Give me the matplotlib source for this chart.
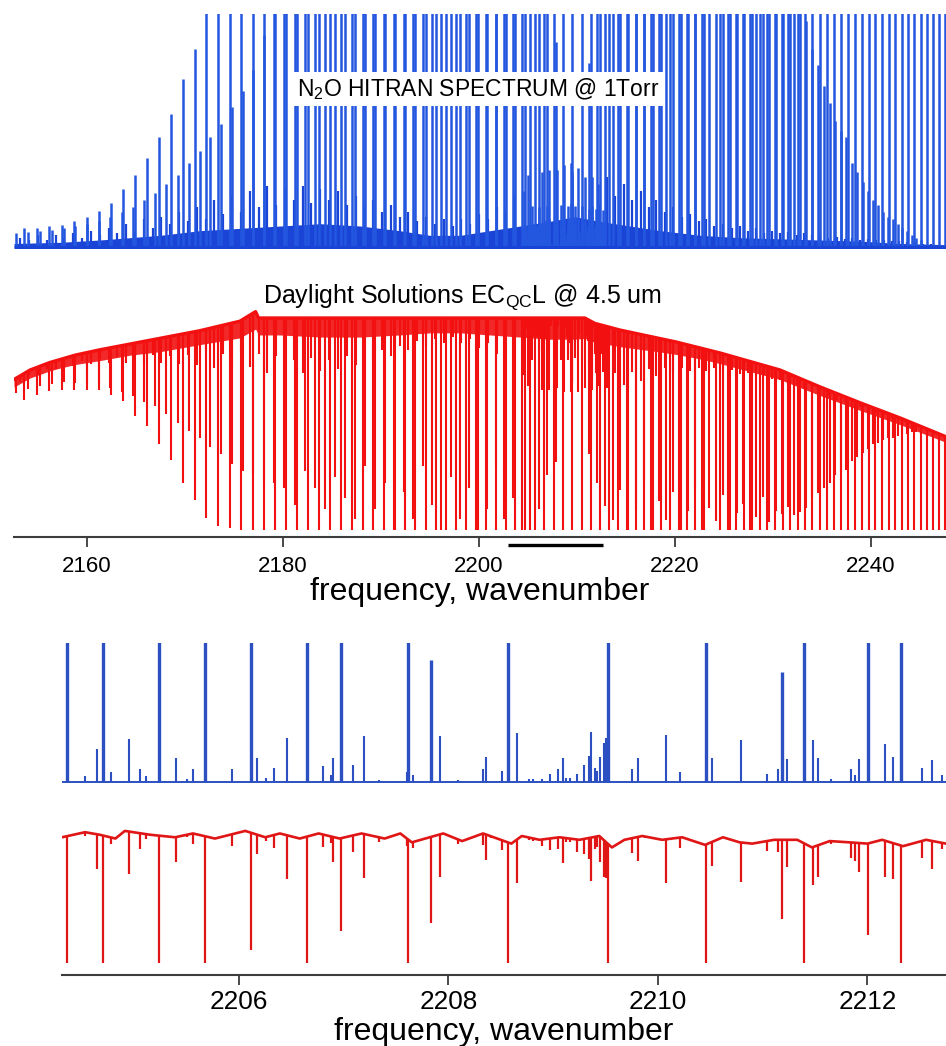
import numpy as np
import matplotlib
matplotlib.use("Agg")
import matplotlib.pyplot as plt

plt.rcParams['font.family'] = ['Liberation Sans', 'DejaVu Sans']
plt.rcParams['mathtext.fontset'] = 'custom'
plt.rcParams['mathtext.rm'] = 'Liberation Sans'
plt.rcParams['mathtext.it'] = 'Liberation Sans:italic'
plt.rcParams['mathtext.bf'] = 'Liberation Sans:bold'

# ------------------------------------------------------------------ data
# main band (nu3) P-branch lines, J = 1..66
main_p_nu = [2222.92, 2222.07, 2221.22, 2220.36, 2219.50, 2218.62, 2217.75, 2216.86, 2215.97, 2215.07,
             2214.16, 2213.24, 2212.32, 2211.39, 2210.46, 2209.52, 2208.57, 2207.61, 2206.65, 2205.68,
             2204.70, 2203.72, 2202.73, 2201.73, 2200.73, 2199.72, 2198.70, 2197.68, 2196.64, 2195.61,
             2194.56, 2193.51, 2192.45, 2191.38, 2190.31, 2189.23, 2188.14, 2187.05, 2185.95, 2184.84,
             2183.72, 2182.60, 2181.47, 2180.34, 2179.19, 2178.04, 2176.89, 2175.72, 2174.56, 2173.38,
             2172.19, 2171.00, 2169.80, 2168.60, 2167.39, 2166.17, 2164.94, 2163.71, 2162.47, 2161.23,
             2159.97, 2158.71, 2157.44, 2156.17, 2154.89, 2153.60]
main_p_blue = [4.2, 8.3, 12.2, 15.9, 19.8, 23.0, 26.4, 29.3, 31.7, 33.6,
               35.3, 36.6, 37.6, 38.3, 38.8, 38.8, 38.5, 38.0, 37.1, 35.9,
               34.7, 33.2, 31.7, 30.0, 28.2, 26.4, 24.6, 22.8, 21.0, 19.2,
               17.5, 15.9, 14.3, 12.9, 11.5, 10.2, 9.0, 7.9, 6.9, 6.1,
               5.3, 4.6, 3.9, 3.4, 2.9, 2.4, 2.05, 1.7, 1.45, 1.2,
               1.05, 0.85, 0.72, 0.57, 0.47, 0.38, 0.31, 0.25, 0.19, 0.155,
               0.13, 0.11, 0.095, 0.088, 0.083, 0.08]
main_p_red = [1.0, 1.0, 1.0, 1.0, 1.0, 1.0, 1.0, 1.0, 1.0, 1.0,
              1.0, 1.0, 1.0, 1.0, 1.0, 1.0, 1.0, 1.0, 1.0, 1.0,
              1.0, 1.0, 1.0, 1.0, 1.0, 1.0, 1.0, 1.0, 1.0, 1.0,
              1.0, 1.0, 1.0, 1.0, 1.0, 1.0, 1.0, 1.0, 1.0, 1.0,
              1.0, 1.0, 1.0, 1.0, 1.0, 1.0, 1.0, 1.0, 0.99, 0.98,
              0.94, 0.85, 0.76, 0.64, 0.55, 0.45, 0.39, 0.30, 0.26, 0.22,
              0.21, 0.20, 0.18, 0.17, 0.17, 0.17]

# main band R-branch lines, J = 0..32
main_r_nu = [2224.59, 2225.41, 2226.23, 2227.04, 2227.84, 2228.64, 2229.43, 2230.21, 2230.99, 2231.76,
             2232.52, 2233.27, 2234.02, 2234.76, 2235.50, 2236.23, 2236.95, 2237.66, 2238.37, 2239.07,
             2239.76, 2240.44, 2241.12, 2241.79, 2242.46, 2243.12, 2243.77, 2244.41, 2245.05, 2245.68,
             2246.31, 2246.92, 2247.53]
main_r_blue = [4.2, 8.4, 12.4, 16.2, 19.8, 23.2, 26.3, 29.1, 31.5, 33.5,
               35.1, 36.4, 37.3, 37.9, 38.1, 38.0, 37.6, 36.9, 35.9, 34.7,
               33.3, 31.8, 30.1, 28.4, 26.6, 24.8, 23.0, 21.2, 19.4, 17.7,
               16.1, 14.5, 13.0]
main_r_red = [1.0, 1.0, 1.0, 1.0, 1.0, 1.0, 1.0, 1.0, 1.0, 1.0,
              1.0, 1.0, 1.0, 1.0, 1.0, 1.0, 1.0, 1.0, 1.0, 1.0,
              1.0, 1.0, 1.0, 1.0, 1.0, 1.0, 1.0, 1.0, 1.0, 1.0,
              1.0, 1.0, 1.0]

# hot band P-branch lines, J = 2..55
hot_p_nu = [2207.83, 2206.97, 2206.11, 2205.24, 2204.36, 2203.48, 2202.58, 2201.69, 2200.78, 2199.87,
            2198.95, 2198.02, 2197.09, 2196.15, 2195.20, 2194.25, 2193.28, 2192.32, 2191.34, 2190.36,
            2189.37, 2188.37, 2187.37, 2186.36, 2185.34, 2184.32, 2183.28, 2182.25, 2181.20, 2180.15,
            2179.09, 2178.02, 2176.95, 2175.87, 2174.78, 2173.69, 2172.58, 2171.48, 2170.36, 2169.24,
            2168.11, 2166.97, 2165.83, 2164.68, 2163.52, 2162.36, 2161.18, 2160.01, 2158.82, 2157.63,
            2156.43, 2155.22, 2154.01, 2152.79]
hot_p_blue = [0.88, 1.3, 1.7, 2.0, 2.3, 2.5, 2.7, 2.8, 2.9, 3.0,
              3.0, 3.0, 3.0, 2.9, 2.8, 2.7, 2.6, 2.5, 2.35, 2.2,
              2.05, 1.9, 1.8, 1.65, 1.55, 1.45, 1.35, 1.25, 1.18, 1.1,
              1.04, 0.91, 0.76, 0.67, 0.60, 0.53, 0.47, 0.41, 0.36, 0.31,
              0.27, 0.23, 0.20, 0.17, 0.15, 0.13, 0.11, 0.10, 0.09, 0.08,
              0.075, 0.07, 0.065, 0.06]
hot_p_red = [0.68, 0.74, 0.90, 1.0, 1.0, 0.85, 0.95, 0.70, 0.90, 1.0,
             0.80, 0.95, 0.75, 1.0, 0.88, 0.70, 0.95, 0.82, 1.0, 0.78,
             0.90, 0.70, 0.95, 0.85, 0.75, 0.90, 0.80, 0.72, 0.88, 0.80,
             0.78, 0.77, 0.74, 0.72, 0.68, 0.63, 0.59, 0.54, 0.50, 0.45,
             0.40, 0.35, 0.32, 0.28, 0.25, 0.22, 0.19, 0.17, 0.16, 0.14,
             0.13, 0.12, 0.11, 0.10]

# hot band R-branch lines, J = 1..54
hot_r_nu = [2211.18, 2212.01, 2212.82, 2213.63, 2214.43, 2215.22, 2216.01, 2216.79, 2217.56, 2218.33,
            2219.08, 2219.84, 2220.58, 2221.32, 2222.05, 2222.77, 2223.49, 2224.20, 2224.90, 2225.60,
            2226.28, 2226.97, 2227.64, 2228.31, 2228.97, 2229.62, 2230.27, 2230.91, 2231.54, 2232.17,
            2232.78, 2233.40, 2234.00, 2234.60, 2235.19, 2235.77, 2236.35, 2236.92, 2237.48, 2238.04,
            2238.58, 2239.13, 2239.66, 2240.19, 2240.71, 2241.22, 2241.73, 2242.23, 2242.72, 2243.21,
            2243.68, 2244.16, 2244.62, 2245.08]
hot_r_blue = [0.79, 1.2, 1.5, 1.8, 2.1, 2.3, 2.5, 2.6, 2.7, 2.8,
              2.8, 2.8, 2.8, 2.7, 2.6, 2.5, 2.4, 2.3, 2.2, 2.1,
              2.0, 1.9, 1.8, 1.7, 1.6, 1.5, 1.4, 1.3, 1.25, 1.15,
              1.08, 0.97, 0.85, 0.78, 0.69, 0.62, 0.54, 0.50, 0.47, 0.36,
              0.32, 0.28, 0.24, 0.20, 0.18, 0.15, 0.13, 0.12, 0.10, 0.08,
              0.07, 0.05, 0.04, 0.03]
hot_r_red = [0.64, 0.77, 0.88, 0.95, 0.80, 1.0, 0.90, 0.75, 1.0, 0.85,
             0.95, 0.80, 1.0, 0.90, 0.78, 1.0, 0.88, 0.95, 0.80, 1.0,
             0.90, 0.85, 1.0, 0.92, 0.80, 0.95, 0.88, 0.90, 0.85, 0.90,
             0.88, 0.85, 0.78, 0.74, 0.70, 0.66, 0.60, 0.57, 0.55, 0.47,
             0.43, 0.39, 0.35, 0.30, 0.28, 0.24, 0.21, 0.20, 0.17, 0.14,
             0.12, 0.09, 0.07, 0.06]

# weak lines read from the zoomed window (2204.3 - 2212.75)
weak_nu = [2204.53, 2204.64, 2204.78, 2204.95, 2205.05, 2205.11, 2205.40, 2205.50, 2205.56, 2205.93,
           2206.17, 2206.26, 2206.33, 2206.46, 2206.80, 2206.88, 2206.90, 2207.09, 2207.19, 2207.34,
           2207.40, 2207.60, 2207.66, 2207.92, 2208.09, 2208.24, 2208.33, 2208.36, 2208.41, 2208.51,
           2208.65, 2208.77, 2208.81, 2208.89, 2208.97, 2209.05, 2209.09, 2209.12, 2209.16, 2209.23,
           2209.29, 2209.34, 2209.36, 2209.40, 2209.42, 2209.45, 2209.48, 2209.50, 2209.75, 2209.81,
           2209.88, 2210.08, 2210.21, 2210.52, 2210.79, 2211.04, 2211.15, 2211.23, 2211.48, 2211.53,
           2211.65, 2211.84, 2211.88, 2211.92, 2212.17, 2212.24, 2212.52, 2212.62, 2212.71]
weak_blue = [0.045, 0.24, 0.07, 0.31, 0.09, 0.04, 0.175, 0.02, 0.09, 0.09,
             0.17, 0.03, 0.10, 0.32, 0.115, 0.05, 0.175, 0.12, 0.33, 0.015,
             0.01, 0.07, 0.05, 0.33, 0.015, 0.01, 0.09, 0.18, 0.01, 0.08,
             0.35, 0.02, 0.02, 0.02, 0.06, 0.09, 0.175, 0.03, 0.03, 0.06,
             0.12, 0.19, 0.36, 0.10, 0.08, 0.18, 0.28, 0.32, 0.09, 0.175,
             0.01, 0.34, 0.07, 0.175, 0.30, 0.06, 0.09, 0.165, 0.30, 0.175,
             0.02, 0.09, 0.05, 0.165, 0.27, 0.18, 0.10, 0.16, 0.05]
weak_red = [0.03, 0.27, 0.05, 0.32, 0.12, 0.04, 0.20, 0.02, 0.08, 0.09,
            0.15, 0.03, 0.10, 0.34, 0.10, 0.05, 0.20, 0.13, 0.34, 0.04,
            0.01, 0.06, 0.05, 0.33, 0.04, 0.01, 0.09, 0.20, 0.01, 0.08,
            0.35, 0.02, 0.02, 0.05, 0.09, 0.09, 0.20, 0.03, 0.03, 0.10,
            0.12, 0.17, 0.35, 0.10, 0.08, 0.20, 0.30, 0.30, 0.12, 0.19,
            0.01, 0.35, 0.08, 0.20, 0.33, 0.08, 0.10, 0.22, 0.33, 0.27,
            0.02, 0.13, 0.15, 0.24, 0.30, 0.30, 0.14, 0.23, 0.05]

# weaker satellite lines of the survey spectrum outside the zoomed window
sat_nu = [2153.2, 2154.1, 2155.0, 2155.9, 2156.8, 2157.7, 2158.6, 2159.5, 2160.4, 2161.3,
          2162.2, 2163.1, 2164.0, 2164.9, 2165.8, 2166.7, 2167.6, 2168.5, 2169.4, 2170.3,
          2171.2, 2172.1, 2173.0, 2173.9, 2174.8, 2175.7, 2176.6, 2177.5, 2178.4, 2179.3,
          2180.2, 2181.1, 2182.0, 2182.9, 2183.8, 2184.7, 2185.6, 2186.5, 2187.4, 2188.3,
          2189.2, 2190.1, 2191.0, 2191.9, 2192.8, 2193.7, 2194.6, 2195.5, 2196.4, 2197.3,
          2198.2, 2199.1, 2200.0, 2200.9, 2201.8, 2202.7, 2203.6,
          2213.1, 2213.9, 2214.8, 2215.6, 2216.5, 2217.3, 2218.1, 2219.0, 2219.8, 2220.7,
          2221.5, 2222.4, 2223.2, 2224.0, 2224.9, 2225.8, 2226.6, 2227.4, 2228.3, 2229.1,
          2229.9, 2230.7, 2231.5, 2232.4, 2233.2, 2234.0, 2234.8, 2235.6, 2236.5, 2237.3,
          2238.1, 2238.9, 2239.7, 2240.5, 2241.3, 2242.1, 2242.9, 2243.7, 2244.5, 2245.3,
          2246.1, 2246.9]
sat_blue = [0.04, 0.03, 0.05, 0.03, 0.05, 0.04, 0.06, 0.04, 0.07, 0.05,
            0.08, 0.06, 0.10, 0.07, 0.12, 0.08, 0.13, 0.10, 0.15, 0.11,
            0.17, 0.12, 0.20, 0.14, 0.22, 0.15, 0.24, 0.17, 0.26, 0.18,
            0.25, 0.20, 0.26, 0.19, 0.25, 0.20, 0.24, 0.18, 0.22, 0.17,
            0.20, 0.15, 0.18, 0.13, 0.15, 0.11, 0.13, 0.10, 0.12, 0.09,
            0.12, 0.10, 0.14, 0.12, 0.17, 0.15, 0.22,
            0.30, 0.22, 0.27, 0.20, 0.24, 0.17, 0.20, 0.15, 0.17, 0.13,
            0.14, 0.11, 0.12, 0.09, 0.10, 0.08, 0.09, 0.07, 0.08, 0.06,
            0.07, 0.06, 0.065, 0.05, 0.06, 0.05, 0.05, 0.04, 0.045, 0.035,
            0.04, 0.03, 0.035, 0.03, 0.03, 0.025, 0.025, 0.02, 0.02, 0.015,
            0.015, 0.01]
sat_red = [0.04, 0.03, 0.05, 0.03, 0.05, 0.04, 0.06, 0.04, 0.07, 0.05,
           0.08, 0.06, 0.10, 0.07, 0.12, 0.08, 0.13, 0.10, 0.15, 0.11,
           0.17, 0.12, 0.20, 0.14, 0.22, 0.15, 0.24, 0.17, 0.26, 0.18,
           0.25, 0.20, 0.26, 0.19, 0.25, 0.20, 0.24, 0.18, 0.22, 0.17,
           0.20, 0.15, 0.18, 0.13, 0.15, 0.11, 0.13, 0.10, 0.12, 0.09,
           0.12, 0.10, 0.14, 0.12, 0.17, 0.15, 0.22,
           0.30, 0.22, 0.27, 0.20, 0.24, 0.17, 0.20, 0.15, 0.17, 0.13,
           0.14, 0.11, 0.12, 0.09, 0.10, 0.08, 0.09, 0.07, 0.08, 0.06,
           0.07, 0.06, 0.065, 0.05, 0.06, 0.05, 0.05, 0.04, 0.045, 0.035,
           0.04, 0.03, 0.035, 0.03, 0.03, 0.025, 0.025, 0.02, 0.02, 0.015,
           0.015, 0.01]

# dense unresolved forest near the baseline (blue) and under the laser envelope (red)
forest_nu = [2152.55, 2157.2, 2161.3, 2164.4, 2167.45, 2171.5, 2175.6, 2179.7, 2183.8, 2187.9,
             2191.9, 2195.0, 2198.1, 2201.1, 2204.2, 2207.2, 2209.8, 2212.3, 2215.4, 2218.5,
             2222.6, 2226.6, 2230.7, 2234.8, 2238.9, 2243.0, 2247.65]
forest_h = [0.015, 0.02, 0.03, 0.04, 0.05, 0.07, 0.08, 0.09, 0.10, 0.09,
            0.07, 0.05, 0.05, 0.07, 0.09, 0.11, 0.13, 0.11, 0.09, 0.07,
            0.05, 0.04, 0.035, 0.03, 0.025, 0.015, 0.01]
red_fringe = [0.05, 0.05, 0.06, 0.06, 0.07, 0.07, 0.08, 0.08, 0.09, 0.09,
              0.08, 0.07, 0.07, 0.08, 0.09, 0.10, 0.10, 0.09, 0.08, 0.07,
              0.06, 0.06, 0.06, 0.06, 0.06, 0.06, 0.06]

# EC-QCL output power envelope (survey scan)
laser_nu = [2152.55, 2154.2, 2156.2, 2158.8, 2161.3, 2166.4, 2171.5, 2175.6, 2177.2, 2177.5,
            2210.8, 2211.8, 2214.4, 2220.1, 2224.6, 2230.7, 2234.8, 2238.9, 2243.0, 2247.65]
laser_power = [0.71, 0.755, 0.79, 0.825, 0.85, 0.895, 0.94, 0.985, 1.03, 1.0,
               1.0, 0.975, 0.943, 0.887, 0.835, 0.755, 0.675, 0.60, 0.528, 0.44]

# EC-QCL power baseline in the zoomed scan
zoom_base_nu = [2204.31, 2204.53, 2204.67, 2204.82, 2204.91, 2205.15, 2205.39, 2205.56, 2205.77, 2206.06,
                2206.25, 2206.39, 2206.58, 2206.76, 2206.96, 2207.17, 2207.39, 2207.54, 2207.65, 2207.95,
                2208.13, 2208.33, 2208.60, 2208.70, 2208.87, 2209.06, 2209.25, 2209.44, 2209.56, 2209.68,
                2209.85, 2210.04, 2210.23, 2210.45, 2210.62, 2210.78, 2210.90, 2211.11, 2211.33, 2211.47,
                2211.64, 2211.83, 2212.00, 2212.14, 2212.34, 2212.56, 2212.75]
zoom_base_power = [0.99, 1.03, 1.01, 0.98, 1.04, 1.01, 0.99, 1.02, 0.98, 1.04,
                   0.99, 1.02, 0.98, 1.02, 0.98, 1.02, 0.98, 1.02, 0.95, 1.02,
                   0.96, 1.02, 0.94, 1.0, 0.97, 0.99, 0.97, 1.0, 0.91, 0.97,
                   1.0, 0.97, 0.99, 0.93, 0.99, 0.95, 0.94, 0.97, 0.97, 0.91,
                   0.96, 0.95, 0.94, 0.97, 0.92, 0.97, 0.94]

zoom_span = [2203.0, 2212.6]
top_xlim = [2152.55, 2247.65]
zoom_xlim = [2204.31, 2212.75]
top_ticks = [2160, 2180, 2200, 2220, 2240]
zoom_ticks = [2206, 2208, 2210, 2212]

# ------------------------------------------------------------------ figure
W, H = 946, 1046
fig = plt.figure(figsize=(W / 100, H / 100), dpi=100)


def box(x0, y0, x1, y1):
    return [x0 / W, 1 - y1 / H, (x1 - x0) / W, (y1 - y0) / H]


BLUE = '#2457e0'
BLUE_D = '#1a44d6'
RED = '#f21010'
ZBLUE = '#2c50c2'
ZRED = '#e01515'
AXC = '#3c3c3c'

line_nu = np.array(main_p_nu + main_r_nu + hot_p_nu + hot_r_nu + weak_nu)
line_blue = np.array(main_p_blue + main_r_blue + hot_p_blue + hot_r_blue + weak_blue)
line_red = np.array(main_p_red + main_r_red + hot_p_red + hot_r_red + weak_red)
sat_nu_a = np.array(sat_nu)
sat_blue_a = np.array(sat_blue)
sat_red_a = np.array(sat_red)

# ---- survey: HITRAN (blue)
ax_tb = fig.add_axes(box(14, 14, 946, 249))
ax_tb.set_xlim(*top_xlim)
ax_tb.set_ylim(-2 / 233, 1.0)
ax_tb.fill_between(forest_nu, 0, forest_h, color=BLUE_D, lw=0)
ax_tb.vlines(sat_nu_a, 0, sat_blue_a, color=BLUE_D, lw=1.6)
ax_tb.vlines(line_nu, 0, line_blue, color=BLUE, lw=1.8)
ax_tb.hlines(0, *top_xlim, color=BLUE_D, lw=2.2)
ax_tb.axis('off')
fig.text(478 / W, 1 - 89 / H, r'N$_{\mathrm{2}}$O HITRAN SPECTRUM @ 1Torr', ha='center', va='center',
         fontsize=16.5, color='black',
         bbox=dict(facecolor='white', edgecolor='none', boxstyle='square,pad=0.2'))

# ---- survey: laser transmission (red)
ax_tr = fig.add_axes(box(14, 290, 946, 537))
ax_tr.set_xlim(*top_xlim)
ax_tr.set_ylim((530 - 537) / 212, (530 - 290) / 212)
env_lines = np.interp(line_nu, laser_nu, laser_power)
env_sat = np.interp(sat_nu_a, laser_nu, laser_power)
ax_tr.vlines(line_nu, env_lines * (1 - line_red), env_lines, color=RED, lw=1.5)
ax_tr.vlines(sat_nu_a, env_sat * (1 - sat_red_a), env_sat, color=RED, lw=1.5)
grid = np.union1d(forest_nu, laser_nu)
env_grid = np.interp(grid, laser_nu, laser_power)
fringe = np.interp(grid, forest_nu, red_fringe)
ax_tr.fill_between(grid, env_grid * (1 - fringe), env_grid, color=RED, lw=0, alpha=0.9)
ax_tr.plot(laser_nu, laser_power, color=RED, lw=2.4)
ax_tr.plot(zoom_span, [-0.071, -0.071], color='black', lw=2.4, clip_on=False, solid_capstyle='butt')
for s in ['top', 'left', 'right']:
    ax_tr.spines[s].set_visible(False)
ax_tr.spines['bottom'].set_color(AXC)
ax_tr.spines['bottom'].set_linewidth(1.5)
ax_tr.set_yticks([])
ax_tr.set_xticks(top_ticks)
ax_tr.tick_params(axis='x', direction='out', length=7.5, width=1.3, color=AXC, labelsize=16, pad=6.5)
ax_tr.set_xlabel('frequency, wavenumber', fontsize=23, labelpad=0)
fig.text(263 / W, 1 - 297 / H, r'Daylight Solutions EC$_{\mathrm{QC}}$L @ 4.5 um', ha='left', va='center',
         fontsize=18, color='black')

# ---- zoom: HITRAN (blue)
ax_bb = fig.add_axes(box(62, 643, 946, 786))
ax_bb.set_xlim(*zoom_xlim)
ax_bb.set_ylim(-4 / 139, 1.0)
strong = line_blue >= 0.5
ax_bb.hlines(0, *zoom_xlim, color=ZBLUE, lw=1.4)
ax_bb.vlines(line_nu[~strong], 0, line_blue[~strong], color=ZBLUE, lw=1.5)
ax_bb.vlines(line_nu[strong], 0, line_blue[strong], color=ZBLUE, lw=2.4)
ax_bb.axis('off')

# ---- zoom: laser transmission (red)
ax_br = fig.add_axes(box(62, 800, 946, 975))
ax_br.set_xlim(*zoom_xlim)
ax_br.set_ylim((963 - 975) / 127, (963 - 800) / 127)
base_lines = np.interp(line_nu, zoom_base_nu, zoom_base_power)
ax_br.vlines(line_nu, base_lines * (1 - line_red), base_lines, color=ZRED, lw=1.6)
ax_br.plot(zoom_base_nu, zoom_base_power, color=ZRED, lw=1.9)
for s in ['top', 'left', 'right']:
    ax_br.spines[s].set_visible(False)
ax_br.spines['bottom'].set_color(AXC)
ax_br.spines['bottom'].set_linewidth(1.5)
ax_br.set_yticks([])
ax_br.set_xticks(zoom_ticks)
ax_br.tick_params(axis='x', direction='out', length=7.2, width=1.3, color=AXC, labelsize=18.8, pad=3.6)
ax_br.set_xlabel('frequency, wavenumber', fontsize=23, labelpad=2)

fig.savefig('out.png', dpi=100)
